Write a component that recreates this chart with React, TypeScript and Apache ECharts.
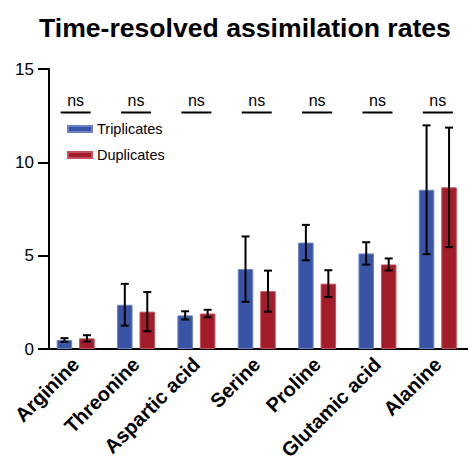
import React, { useEffect, useRef } from 'react';
import * as echarts from 'echarts';

const categories = ['Arginine', 'Threonine', 'Aspartic acid', 'Serine', 'Proline', 'Glutamic acid', 'Alanine'];
const triplicatesMean = [0.48, 2.37, 1.8, 4.28, 5.7, 5.12, 8.53];
const triplicatesSD = [0.1, 1.12, 0.22, 1.75, 0.95, 0.6, 3.45];
const duplicatesMean = [0.57, 2.0, 1.9, 3.1, 3.5, 4.53, 8.66];
const duplicatesSD = [0.17, 1.05, 0.2, 1.1, 0.72, 0.32, 3.2];
const significance = ['ns', 'ns', 'ns', 'ns', 'ns', 'ns', 'ns'];
const significanceLevel = 12.67;
const yMin = 0;
const yMax = 15;
const yInterval = 5;
const minorPerCategory = 9;

const FONT = '"Liberation Sans", Arial, Helvetica, sans-serif';
const BLUE = '#3a54a5';
const BLUE_EDGE = '#6a82c6';
const RED = '#a21c29';
const RED_EDGE = '#c4505b';
const BAR_W = 15.5;
const BAR_GAP = 0.45;
const BAR_OFFSET = (BAR_W + BAR_W * BAR_GAP) / 2;

const minorSlots = Array.from({ length: categories.length * minorPerCategory }, (_, i) => String(i));

function errorSeries(mean: number[], sd: number[], offset: number) {
  return {
    type: 'custom',
    xAxisIndex: 0,
    yAxisIndex: 0,
    silent: true,
    z: 5,
    data: mean.map((m, i) => [i, m - sd[i], m + sd[i]]),
    renderItem: (params: any, api: any) => {
      const lo = api.coord([api.value(0), api.value(1)]);
      const hi = api.coord([api.value(0), api.value(2)]);
      const x = lo[0] + offset;
      const cap = 4;
      const st = { stroke: '#000', lineWidth: 2 };
      return {
        type: 'group',
        children: [
          { type: 'line', shape: { x1: x, y1: hi[1], x2: x, y2: lo[1] }, style: st },
          { type: 'line', shape: { x1: x - cap, y1: hi[1], x2: x + cap, y2: hi[1] }, style: st },
          { type: 'line', shape: { x1: x - cap, y1: lo[1], x2: x + cap, y2: lo[1] }, style: st },
        ],
      };
    },
  };
}

export default function App() {
  const ref = useRef<HTMLDivElement>(null);
  useEffect(() => {
    if (!ref.current) return;
    const chart = echarts.init(ref.current, null, { renderer: 'svg' });
    chart.setOption({
      animation: false,
      backgroundColor: '#fff',
      title: {
        text: 'Time-resolved assimilation rates',
        left: 34,
        top: 9,
        textStyle: { fontFamily: FONT, fontSize: 26.6, fontWeight: 'bold', color: '#000' },
      },
      legend: {
        data: ['Triplicates', 'Duplicates'],
        orient: 'vertical',
        left: 62,
        top: 116,
        itemWidth: 24,
        itemHeight: 6,
        itemGap: 10,
        icon: 'rect',
        selectedMode: false,
        textStyle: { fontFamily: FONT, fontSize: 14.5, color: '#000', lineHeight: 16 },
      },
      grid: { left: 45.5, top: 69, width: 427, bottom: 125 },
      xAxis: [
        {
          type: 'category',
          data: categories,
          axisLine: { lineStyle: { color: '#000', width: 2 } },
          axisTick: { alignWithLabel: true, length: 11, lineStyle: { color: '#000', width: 2 } },
          axisLabel: {
            rotate: 45,
            margin: 12,
            interval: 0,
            fontFamily: FONT,
            fontSize: 20,
            fontWeight: 'bold',
            color: '#000',
          },
        },
        {
          type: 'category',
          data: minorSlots,
          position: 'bottom',
          axisLine: { show: false },
          axisTick: { alignWithLabel: true, interval: 0, length: 3, lineStyle: { color: '#000', width: 1 } },
          axisLabel: { show: false },
          splitLine: { show: false },
        },
      ],
      yAxis: {
        type: 'value',
        min: yMin,
        max: yMax,
        interval: yInterval,
        offset: -3.5,
        splitLine: { show: false },
        axisLine: { show: true, lineStyle: { color: '#000', width: 2 } },
        axisTick: { show: true, length: 11, lineStyle: { color: '#000', width: 2 } },
        axisLabel: { margin: 15, fontFamily: FONT, fontSize: 17, color: '#000' },
      },
      series: [
        {
          name: 'Triplicates',
          type: 'bar',
          data: triplicatesMean,
          barWidth: BAR_W,
          barGap: BAR_GAP * 100 + '%',
          itemStyle: { color: BLUE, borderColor: BLUE_EDGE, borderWidth: 1 },
        },
        {
          name: 'Duplicates',
          type: 'bar',
          data: duplicatesMean,
          barWidth: BAR_W,
          barGap: BAR_GAP * 100 + '%',
          itemStyle: { color: RED, borderColor: RED_EDGE, borderWidth: 1 },
        },
        errorSeries(triplicatesMean, triplicatesSD, -BAR_OFFSET),
        errorSeries(duplicatesMean, duplicatesSD, BAR_OFFSET),
        {
          type: 'custom',
          silent: true,
          z: 6,
          data: significance.map((s, i) => [i, significanceLevel, s]),
          renderItem: (params: any, api: any) => {
            const p = api.coord([api.value(0), api.value(1)]);
            const label = significance[params.dataIndex];
            return {
              type: 'group',
              children: [
                {
                  type: 'line',
                  shape: { x1: p[0] - 15, y1: p[1], x2: p[0] + 15, y2: p[1] },
                  style: { stroke: '#000', lineWidth: 2 },
                },
                {
                  type: 'text',
                  style: {
                    text: label,
                    x: p[0],
                    y: p[1] - 11.5,
                    align: 'center',
                    verticalAlign: 'middle',
                    fontFamily: FONT,
                    fontSize: 16,
                    fill: '#000',
                  },
                },
              ],
            };
          },
        },
      ],
    });
    return () => chart.dispose();
  }, []);
  return (
    <div
      ref={ref}
      style={{ position: 'fixed', left: 0, top: 0, width: 468, height: 474, background: '#fff' }}
    />
  );
}
